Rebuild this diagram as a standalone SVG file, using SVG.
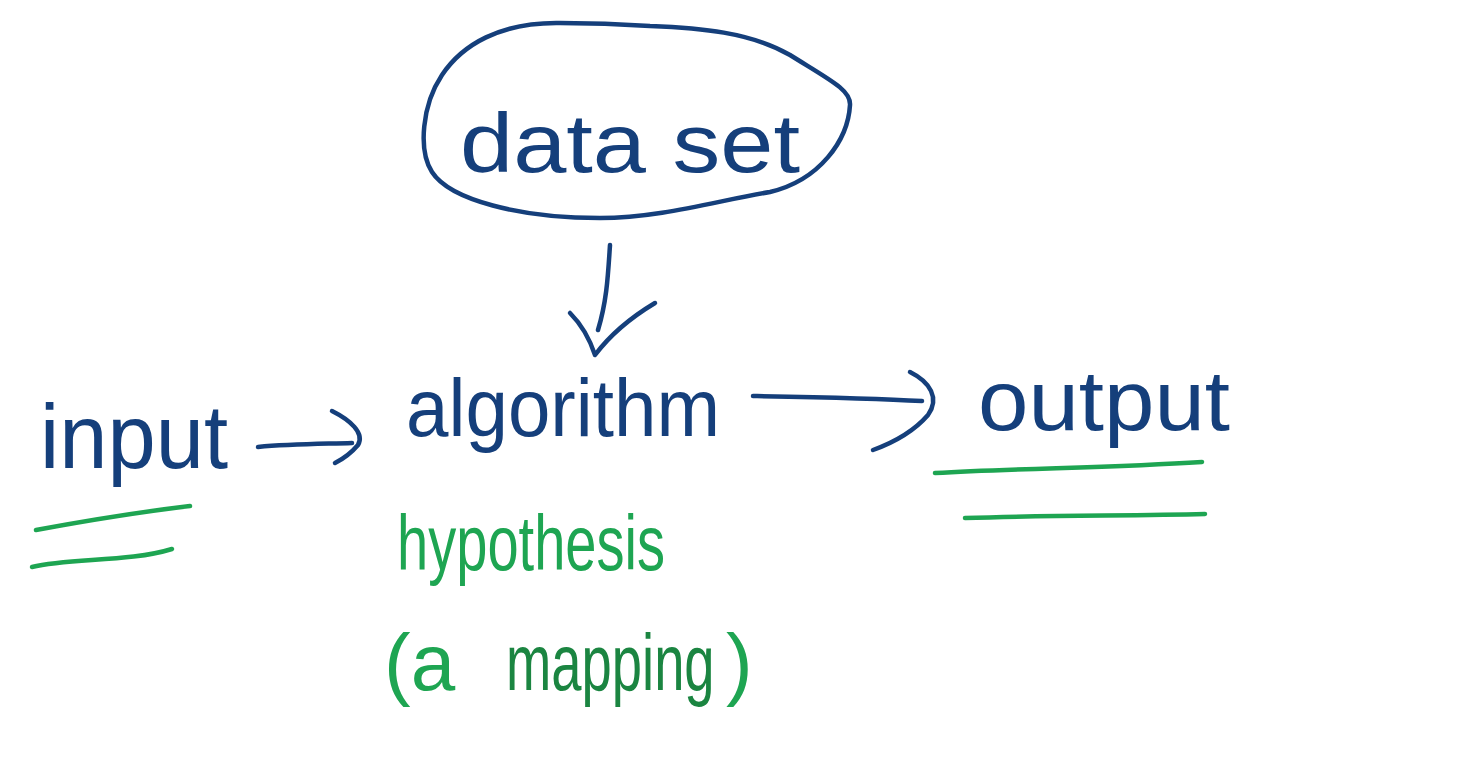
<svg xmlns="http://www.w3.org/2000/svg" width="1472" height="784" viewBox="0 0 1472 784">
<style>
.ink{fill:none;stroke:#153f7b;stroke-width:4.5;stroke-linecap:round;stroke-linejoin:round}
.gink{fill:none;stroke:#1ea552;stroke-width:4.5;stroke-linecap:round;stroke-linejoin:round}
.t{font-family:"Liberation Sans","DejaVu Sans",sans-serif;fill:#153f7b}
.g{font-family:"Liberation Sans","DejaVu Sans",sans-serif;fill:#1ea552}
.dg{font-family:"Liberation Sans","DejaVu Sans",sans-serif;fill:#1b8541}
</style>
<rect width="1472" height="784" fill="#ffffff"/>
<g id="dataset">
<path class="ink" d="M560,23 C500,22 462,45 442,75 C422,105 418,150 432,172 C450,200 520,218 600,218 C660,218 720,200 770,192 C820,180 848,140 850,105 C851,90 830,80 790,55 C750,32 700,28 650,26 C620,24 590,23 560,23 Z"/>
<text class="t" x="460" y="172" font-size="84" textLength="340" lengthAdjust="spacingAndGlyphs">data set</text>
</g>
<g id="input">
<text class="t" x="40" y="468" font-size="90" textLength="188" lengthAdjust="spacingAndGlyphs">input</text>
</g>
<g id="algorithm">
<text class="t" x="406" y="436" font-size="82" textLength="314" lengthAdjust="spacingAndGlyphs">algorithm</text>
</g>
<g id="output">
<text class="t" x="978" y="430" font-size="86" textLength="252" lengthAdjust="spacingAndGlyphs">output</text>
</g>
<g id="hypothesis">
<text class="g" x="397" y="570" font-size="78" textLength="268" lengthAdjust="spacingAndGlyphs">hypothesis</text>
<text class="g" x="384" y="690" font-size="80">(a</text>
<text class="dg" font-size="80" transform="translate(506,690) scale(0.68,1)">mapping</text>
<text class="g" x="726" y="690" font-size="80">)</text>
</g>
<g id="underlines">
<path class="gink" d="M36,530 C90,520 140,512 190,506"/>
<path class="gink" d="M32,567 C70,558 130,562 172,549"/>
<path class="gink" d="M935,473 C1020,468 1110,468 1202,462"/>
<path class="gink" d="M965,518 C1050,515 1130,516 1205,514"/>
</g>
<g id="connectors">
<path class="ink" d="M610,245 C608,275 607,300 598,330"/>
<path class="ink" d="M570,313 C582,325 590,340 595,355 C610,335 630,318 655,303"/>
<path class="ink" d="M258,447 C290,444 320,444 352,443"/>
<path class="ink" d="M332,411 C350,420 365,433 358,445 C352,452 345,458 335,463"/>
<path class="ink" d="M753,396 C810,397 870,398 922,401"/>
<path class="ink" d="M910,372 C930,382 940,398 928,415 C915,430 895,442 873,450"/>
</g>
</svg>
